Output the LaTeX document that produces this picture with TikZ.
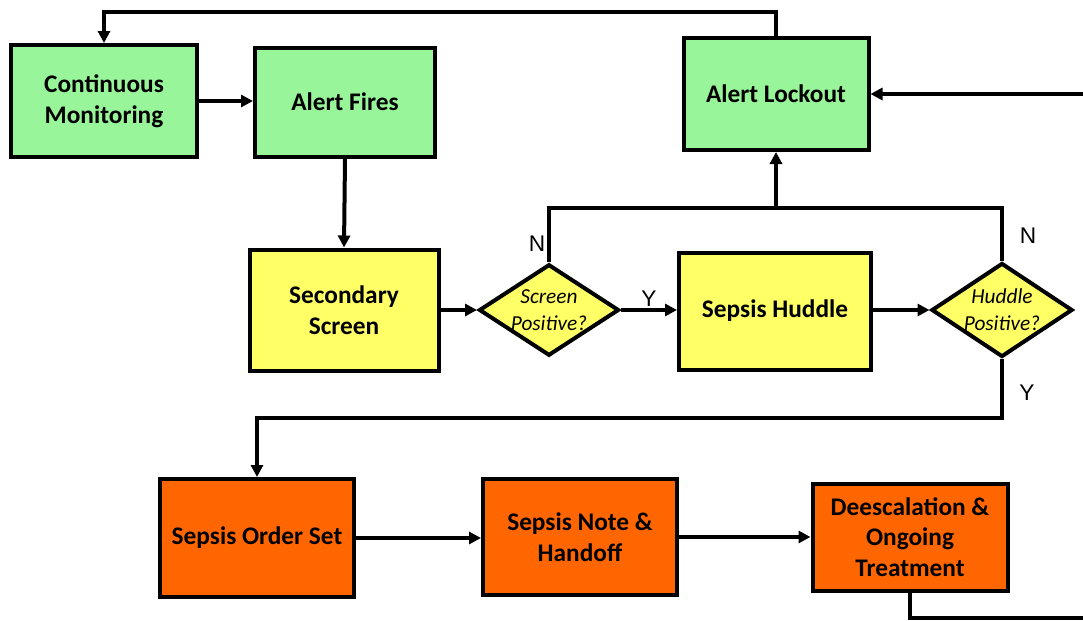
\documentclass[tikz,border=0pt]{standalone}
\usepackage{fontspec}
\setmainfont{Carlito}
\newfontfamily\labelfont{Liberation Sans}
\usetikzlibrary{shapes.geometric,arrows.meta}

\definecolor{boxgreen}{RGB}{153,245,153}
\definecolor{boxyellow}{RGB}{255,255,102}
\definecolor{boxorange}{RGB}{255,102,0}

\tikzset{every picture/.style={line width=3pt}}
\tikzset{
  stepbox/.style={draw, rectangle, align=center, inner sep=2pt, font=\fontsize{19}{23}\selectfont\bfseries},
  greenbox/.style={stepbox, fill=boxgreen},
  yellowbox/.style={stepbox, fill=boxyellow},
  orangebox/.style={stepbox, fill=boxorange},
  decision/.style={draw, diamond, fill=boxyellow, inner sep=0pt, aspect=1.5, align=center, font=\fontsize{16}{20}\selectfont\itshape},
  boxsize/.style 2 args={minimum width=#1*0.75pt, minimum height=#2*0.75pt},
  flow/.style={-{Triangle[length=9pt,width=9pt]}},
  yn/.style={inner sep=0.75pt, font=\labelfont\fontsize{17}{20}\selectfont}
}

\begin{document}
\begin{tikzpicture}[x=0.75pt,y=0.75pt,yscale=-1,xscale=1]
\useasboundingbox (0,0) rectangle (1083,621);

% Green row
\node [greenbox, boxsize={186}{112}] (cm) at (104,101) {Continuous\\Monitoring};
\node [greenbox, boxsize={180}{109}] (af) at (345,102) {Alert Fires};
\node [greenbox, boxsize={185}{112}] (al) at (776,94) {Alert Lockout};

% Yellow row
\node [yellowbox, boxsize={189}{121}] (ss) at (344,310) {Secondary\\Screen};
\node [decision, boxsize={140}{86}] (sp) at (549,310) {Screen\\Positive?};
\node [yellowbox, boxsize={192}{117}] (sh) at (775,311) {Sepsis Huddle};
\node [decision, boxsize={141}{94}] (hp) at (1002,310) {Huddle\\Positive?};

% Orange row
\node [orangebox, boxsize={194}{118}] (so) at (257,538) {Sepsis Order Set};
\node [orangebox, boxsize={194}{116}] (sn) at (580,537) {Sepsis Note \&\\Handoff};
\node [orangebox, boxsize={195}{107}] (de) at (910,537) {Deescalation \&\\Ongoing\\Treatment};

% Junctions and free ends
\coordinate (top) at (440,12);
\coordinate (nj) at (776,208);
\coordinate (yj) at (600,418);
\coordinate (rin) at (1090,94);
\coordinate (rout) at (1090,618);

% Connectors
\draw [flow] (cm.east) -- (cm.east -| af.west);
\draw [flow] (af.south) -- (ss.north);
\draw [flow] (ss.east) -- (sp.west);
\draw [flow] (sp.east) -- (sh.west |- sp.east);
\draw [flow] (sh.east |- hp.west) -- (hp.west);
\draw [flow] (al.north) |- (cm.north |- top) -- (cm.north);
\draw [flow] (sp.north) |- (nj) -- (al.south);
\draw (hp.north) |- (nj);
\draw [flow] (rin) -- (al.east);
\draw [flow] (hp.south) |- (so.north |- yj) -- (so.north);
\draw [flow] (so.east) -- (so.east -| sn.west);
\draw [flow] (sn.east) -- (sn.east -| de.west);
\draw (de.south) |- (rout);

% Text Node
\node [yn] (n1) at (537,244) {N};
\node [yn] (y1) at (649,299) {Y};
\node [yn] (n2) at (1028,236) {N};
\node [yn] (y2) at (1027,393) {Y};

\end{tikzpicture}
\end{document}
